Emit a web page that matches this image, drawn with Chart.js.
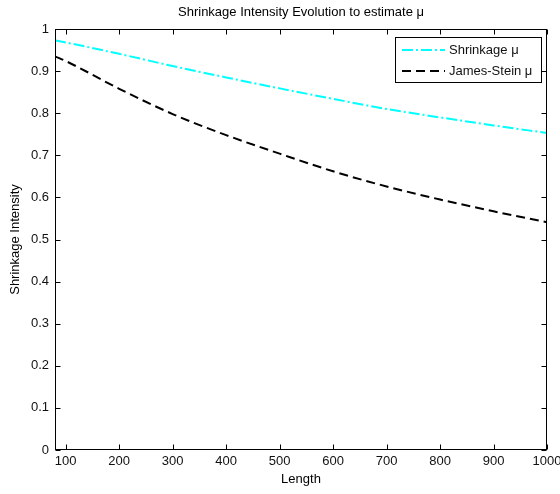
<!DOCTYPE html>
<html>
<head>
<meta charset="utf-8">
<script src="https://cdn.jsdelivr.net/npm/chart.js@4.4.1/dist/chart.umd.min.js"></script>
<style>
  html, body { margin: 0; padding: 0; background: #fff; }
  canvas { display: block; }
</style>
</head>
<body>
<canvas id="grafico" width="560" height="494"></canvas>
<script>
// Longitud de la muestra y la intensidad de shrinkage de cada estimador
const longitudes = [80, 100, 200, 300, 400, 500, 600, 700, 800, 900, 1000];
const shrinkage = [0.973, 0.968, 0.941, 0.912, 0.885, 0.859, 0.834, 0.810, 0.790, 0.771, 0.753];
const jamesStein = [0.935, 0.924, 0.858, 0.798, 0.748, 0.704, 0.662, 0.626, 0.595, 0.567, 0.541];
const ticksX = [100, 200, 300, 400, 500, 600, 700, 800, 900, 1000];

const fuente = '"Liberation Sans", Arial, Helvetica, sans-serif';
Chart.defaults.font.family = fuente;
Chart.defaults.font.size = 13;
Chart.defaults.color = '#111';

// Marco de los ejes con marcas hacia adentro en los cuatro lados
const cajaEjes = {
  id: 'cajaEjes',
  afterDatasetsDraw(chart) {
    const { ctx, chartArea: a, scales: { x, y } } = chart;
    const l = Math.round(a.left) + 0.5, r = Math.round(a.right) - 0.5;
    const t = Math.round(a.top) + 0.5, b = Math.round(a.bottom) - 0.5;
    const largo = 5;
    ctx.save();
    ctx.strokeStyle = '#000';
    ctx.lineWidth = 1;
    ctx.strokeRect(l, t, r - l, b - t);
    ctx.beginPath();
    x.ticks.forEach(tk => {
      const px = Math.round(x.getPixelForValue(tk.value)) + 0.5;
      ctx.moveTo(px, b); ctx.lineTo(px, b - largo);
      ctx.moveTo(px, t); ctx.lineTo(px, t + largo);
    });
    y.ticks.forEach(tk => {
      const py = Math.round(y.getPixelForValue(tk.value)) + 0.5;
      ctx.moveTo(l, py); ctx.lineTo(l + largo, py);
      ctx.moveTo(r, py); ctx.lineTo(r - largo, py);
    });
    ctx.stroke();
    ctx.restore();
  }
};

// Leyenda dentro del área, arriba a la derecha
const leyendaCaja = {
  id: 'leyendaCaja',
  afterDraw(chart) {
    const { ctx, chartArea: a } = chart;
    const sets = chart.data.datasets;
    ctx.save();
    ctx.font = '13px ' + fuente;
    const anchoTexto = Math.max(...sets.map(d => ctx.measureText(d.label).width));
    const muestra = 43, sep = 4, pad = 7;
    const w = Math.round(pad + muestra + sep + anchoTexto + 9);
    const h = 45;
    const x0 = Math.round(a.right) - 6 - w, y0 = Math.round(a.top) + 8;
    ctx.fillStyle = '#fff';
    ctx.fillRect(x0, y0, w, h);
    ctx.strokeStyle = '#000';
    ctx.lineWidth = 1;
    ctx.strokeRect(x0 + 0.5, y0 + 0.5, w, h);
    sets.forEach((d, i) => {
      const fy = y0 + 13 + i * 21;
      ctx.beginPath();
      ctx.setLineDash(d.borderDash || []);
      ctx.strokeStyle = d.borderColor;
      ctx.lineWidth = d.borderWidth;
      ctx.moveTo(x0 + pad, fy);
      ctx.lineTo(x0 + pad + muestra, fy);
      ctx.stroke();
      ctx.setLineDash([]);
      ctx.fillStyle = '#111';
      ctx.textBaseline = 'middle';
      ctx.textAlign = 'left';
      ctx.fillText(d.label, x0 + pad + muestra + sep, fy);
    });
    ctx.restore();
  }
};

const grafico = new Chart(document.querySelector('#grafico'), {
  type: 'line',
  data: {
    labels: longitudes,
    datasets: [
      {
        label: 'Shrinkage μ',
        data: longitudes.map((v, i) => ({ x: v, y: shrinkage[i] })),
        borderColor: '#00ffff',
        borderWidth: 2,
        borderDash: [11, 3, 2, 3],
        pointRadius: 0,
        cubicInterpolationMode: 'monotone',
        fill: false
      },
      {
        label: 'James-Stein μ',
        data: longitudes.map((v, i) => ({ x: v, y: jamesStein[i] })),
        borderColor: '#000',
        borderWidth: 2,
        borderDash: [9, 5],
        pointRadius: 0,
        cubicInterpolationMode: 'monotone',
        fill: false
      }
    ]
  },
  options: {
    responsive: false,
    animation: false,
    events: [],
    layout: { padding: { top: 0, right: 13, bottom: 0, left: 0 } },
    plugins: {
      legend: { display: false },
      tooltip: { enabled: false },
      title: {
        display: true,
        fullSize: false,
        text: 'Shrinkage Intensity Evolution to estimate μ',
        color: '#000',
        font: { size: 13, weight: 'normal' },
        padding: { top: 5, bottom: 8.4 }
      }
    },
    scales: {
      x: {
        type: 'linear',
        min: 80,
        max: 1000,
        grid: { display: false, drawTicks: false },
        border: { display: false },
        ticks: { padding: 4, maxRotation: 0, autoSkip: false, callback: v => String(v) },
        afterBuildTicks: s => { s.ticks = ticksX.map(v => ({ value: v })); },
        afterFit: s => { s.height = 44; s.paddingLeft = 0; s.paddingRight = 0; },
        title: { display: true, text: 'Length', color: '#000', padding: { top: 0, bottom: 7 } }
      },
      y: {
        min: 0,
        max: 1,
        grid: { display: false, drawTicks: false },
        border: { display: false },
        ticks: { stepSize: 0.1, padding: 6, callback: v => String(Number(v.toFixed(1))) },
        afterFit: s => { s.width = 55; s.paddingTop = 0; s.paddingBottom = 0; },
        title: { display: true, text: 'Shrinkage Intensity', color: '#000', padding: { top: 7.5, bottom: 0 } }
      }
    }
  },
  plugins: [cajaEjes, leyendaCaja]
});
</script>
</body>
</html>
